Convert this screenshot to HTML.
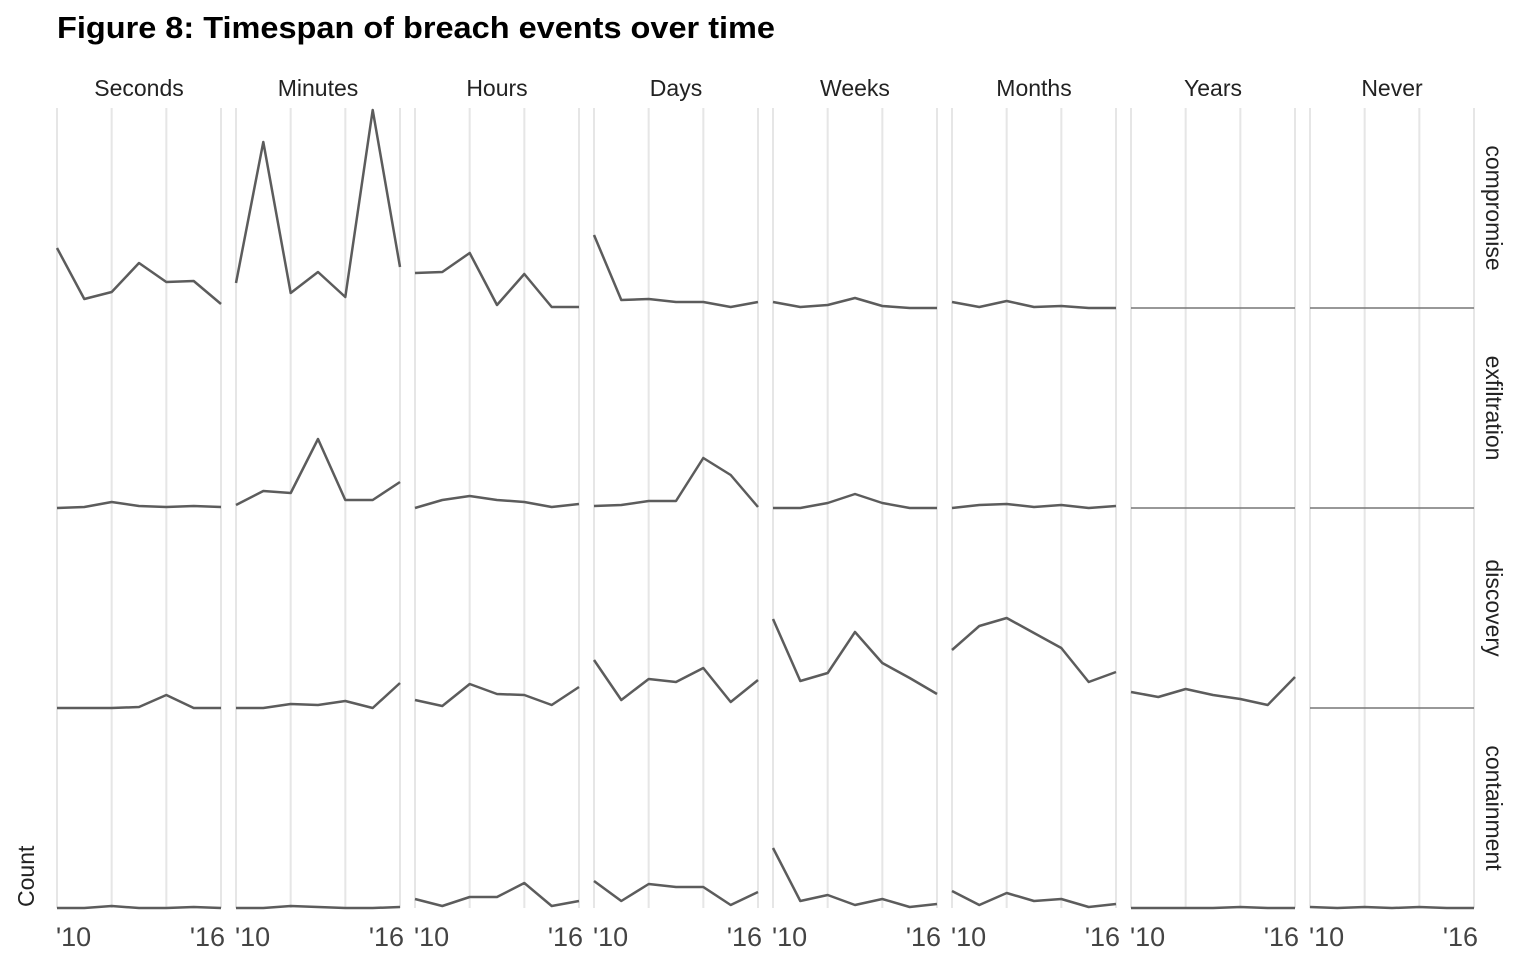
<!DOCTYPE html>
<html><head><meta charset="utf-8"><style>
html,body{margin:0;padding:0;background:#fff;}
body{width:1536px;height:960px;overflow:hidden;font-family:"Liberation Sans",sans-serif;}
</style></head><body>
<svg id="chart" width="1536" height="960" xmlns="http://www.w3.org/2000/svg" font-family="Liberation Sans, sans-serif">
<text x="57" y="38" font-size="31" font-weight="bold" fill="#000" textLength="718" lengthAdjust="spacingAndGlyphs">Figure 8: Timespan of breach events over time</text>
<text transform="translate(34,907) rotate(-90)" font-size="23" fill="#222">Count</text>
<g id="panels"></g>
</svg>
<script>
const columns = ["Seconds","Minutes","Hours","Days","Weeks","Months","Years","Never"];
const rows = ["compromise","exfiltration","discovery","containment"];
const years = [2010,2011,2012,2013,2014,2015,2016];
const gridYears = [2010,2012,2014,2016];
const tickYears = [2010,2016];
const tickLabels = ["'10","'16"];
const compromise = [
 [60,9,16,45,26,27,4],
 [25,166,15,36,11,198,41],
 [35,36,55,3,34,1,1],
 [73,8,9,6,6,1,6],
 [6,1,3,10,2,0,0],
 [6,1,7,1,2,0,0],
 [0,0,0,0,0,0,0],
 [0,0,0,0,0,0,0]
];
const exfiltration = [
 [0,1,6,2,1,2,1],
 [3,17,15,69,8,8,26],
 [0,8,12,8,6,1,4],
 [2,3,7,7,50,33,1],
 [0,0,5,14,5,0,0],
 [0,3,4,1,3,0,2],
 [0,0,0,0,0,0,0],
 [0,0,0,0,0,0,0]
];
const discovery = [
 [0,0,0,1,13,0,0],
 [0,0,4,3,7,0,25],
 [8,2,24,14,13,3,21],
 [48,8,29,26,40,6,28],
 [89,27,35,76,45,30,14],
 [58,82,90,75,60,26,36],
 [16,11,19,13,9,3,31],
 [0,0,0,0,0,0,0]
];
const containment = [
 [0,0,2,0,0,1,0],
 [0,0,2,1,0,0,1],
 [9,2,11,11,25,2,7],
 [27,7,24,21,21,3,16],
 [60,7,13,3,9,1,4],
 [17,3,15,7,9,1,4],
 [0,0,0,0,1,0,0],
 [1,0,1,0,1,0,0]
];
const seriesByRow = [compromise, exfiltration, discovery, containment];
const yMax = 200;

const NS = "http://www.w3.org/2000/svg";
const g = document.getElementById("panels");
const left0 = 57, panelW = 164, colStep = 179, top0 = 108, rowH = 200;
function mk(tag, attrs){const e=document.createElementNS(NS,tag);for(const k in attrs)e.setAttribute(k,attrs[k]);return e;}
function xScale(ci, yr){return left0 + ci*colStep + (yr-years[0])/(years[years.length-1]-years[0])*panelW;}
function yScale(ri, v){return top0 + (ri+1)*rowH - v/yMax*rowH;}

columns.forEach((c,ci)=>{
  gridYears.forEach(yr=>{
    const x = xScale(ci,yr);
    const l = mk("line",{x1:x,x2:x,y1:top0,y2:top0+4*rowH,stroke:"#e6e6e6","stroke-width":2});
    
    
    g.appendChild(l);
  });
  const t = mk("text",{x:left0+ci*colStep+panelW/2,y:96,"text-anchor":"middle","font-size":23,fill:"#222"});
  t.textContent = c;
  
  
  g.appendChild(t);
  tickYears.forEach((yr,ti)=>{
    const tx = mk("text",{x:xScale(ci,yr)+(ti===0?-1:4),y:946,"text-anchor":ti===0?"start":"end","font-size":27,fill:"#444"});
    tx.textContent = tickLabels[ti];
    
    
    g.appendChild(tx);
  });
});
rows.forEach((r,ri)=>{
  const cy = top0 + ri*rowH + rowH/2;
  const t = mk("text",{transform:`translate(1486,${cy}) rotate(90)`,"text-anchor":"middle","font-size":23,fill:"#222"});
  t.textContent = r;
  
  
  g.appendChild(t);
  columns.forEach((c,ci)=>{
    const vals = seriesByRow[ri][ci];
    const pts = vals.map((v,i)=>xScale(ci,years[i]).toFixed(1)+","+yScale(ri,v).toFixed(1)).join(" ");
    const allZero = vals.every(v=>v===0);
    const p = mk("polyline",{points:pts,fill:"none",stroke:allZero?"#777":"#5c5c5c","stroke-width":allZero?1.5:2.5,"stroke-linejoin":"round"});
    
    
    g.appendChild(p);
  });
});
</script>
</body></html>
